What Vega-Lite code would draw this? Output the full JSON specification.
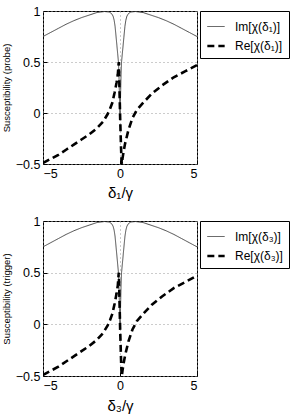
{
  "$schema": "https://vega.github.io/schema/vega-lite/v6.json",
  "padding": {"left": 0, "top": 4, "right": 0, "bottom": 0},
  "background": "white",
  "config": {
    "font": "Liberation Sans",
    "view": {"stroke": "black", "strokeWidth": 1},
    "concat": {"spacing": 13},
    "axis": {
      "domain": false,
      "grid": true,
      "gridDash": [1, 3],
      "gridColor": "#999999",
      "tickColor": "black",
      "tickSize": -4,
      "labelFontSize": 12.5,
      "labelColor": "black",
      "titleColor": "black",
      "titleFontWeight": "normal",
      "labelPadding": 7
    },
    "legend": {
      "orient": "right",
      "offset": 3,
      "title": null,
      "strokeColor": "black",
      "fillColor": "white",
      "padding": 6,
      "symbolType": "stroke",
      "symbolSize": 300,
      "labelFontSize": 12,
      "labelColor": "black",
      "rowPadding": 3,
      "labelOffset": 9
    }
  },
  "datasets": {
    "curves": [
      {"x": -5, "y": 0.75, "series": "Im"},
      {"x": -4.5, "y": 0.79, "series": "Im"},
      {"x": -4, "y": 0.83, "series": "Im"},
      {"x": -3.5, "y": 0.87, "series": "Im"},
      {"x": -3, "y": 0.905, "series": "Im"},
      {"x": -2.5, "y": 0.935, "series": "Im"},
      {"x": -2, "y": 0.96, "series": "Im"},
      {"x": -1.5, "y": 0.985, "series": "Im"},
      {"x": -1, "y": 0.995, "series": "Im"},
      {"x": -0.7, "y": 0.99, "series": "Im"},
      {"x": -0.55, "y": 0.975, "series": "Im"},
      {"x": -0.45, "y": 0.95, "series": "Im"},
      {"x": -0.38, "y": 0.91, "series": "Im"},
      {"x": -0.32, "y": 0.85, "series": "Im"},
      {"x": -0.25, "y": 0.74, "series": "Im"},
      {"x": -0.2, "y": 0.66, "series": "Im"},
      {"x": -0.15, "y": 0.58, "series": "Im"},
      {"x": -0.1, "y": 0.5, "series": "Im"},
      {"x": -0.07, "y": 0.38, "series": "Im"},
      {"x": -0.05, "y": 0.26, "series": "Im"},
      {"x": -0.03, "y": 0.12, "series": "Im"},
      {"x": 0, "y": 0, "series": "Im"},
      {"x": 0.03, "y": 0.12, "series": "Im"},
      {"x": 0.05, "y": 0.26, "series": "Im"},
      {"x": 0.07, "y": 0.38, "series": "Im"},
      {"x": 0.1, "y": 0.5, "series": "Im"},
      {"x": 0.15, "y": 0.58, "series": "Im"},
      {"x": 0.2, "y": 0.66, "series": "Im"},
      {"x": 0.25, "y": 0.74, "series": "Im"},
      {"x": 0.32, "y": 0.85, "series": "Im"},
      {"x": 0.38, "y": 0.91, "series": "Im"},
      {"x": 0.45, "y": 0.95, "series": "Im"},
      {"x": 0.55, "y": 0.975, "series": "Im"},
      {"x": 0.7, "y": 0.99, "series": "Im"},
      {"x": 1, "y": 0.995, "series": "Im"},
      {"x": 1.5, "y": 0.985, "series": "Im"},
      {"x": 2, "y": 0.96, "series": "Im"},
      {"x": 2.5, "y": 0.935, "series": "Im"},
      {"x": 3, "y": 0.905, "series": "Im"},
      {"x": 3.5, "y": 0.87, "series": "Im"},
      {"x": 4, "y": 0.83, "series": "Im"},
      {"x": 4.5, "y": 0.79, "series": "Im"},
      {"x": 5, "y": 0.75, "series": "Im"},
      {"x": -5, "y": -0.49, "series": "Re"},
      {"x": -4.5, "y": -0.45, "series": "Re"},
      {"x": -4, "y": -0.41, "series": "Re"},
      {"x": -3.5, "y": -0.36, "series": "Re"},
      {"x": -3, "y": -0.31, "series": "Re"},
      {"x": -2.5, "y": -0.26, "series": "Re"},
      {"x": -2, "y": -0.21, "series": "Re"},
      {"x": -1.5, "y": -0.15, "series": "Re"},
      {"x": -1.1, "y": -0.085, "series": "Re"},
      {"x": -0.8, "y": -0.01, "series": "Re"},
      {"x": -0.65, "y": 0.04, "series": "Re"},
      {"x": -0.5, "y": 0.1, "series": "Re"},
      {"x": -0.35, "y": 0.2, "series": "Re"},
      {"x": -0.22, "y": 0.3, "series": "Re"},
      {"x": -0.14, "y": 0.38, "series": "Re"},
      {"x": -0.08, "y": 0.5, "series": "Re"},
      {"x": -0.05, "y": 0.35, "series": "Re"},
      {"x": -0.02, "y": 0.15, "series": "Re"},
      {"x": 0.01, "y": -0.05, "series": "Re"},
      {"x": 0.04, "y": -0.2, "series": "Re"},
      {"x": 0.07, "y": -0.35, "series": "Re"},
      {"x": 0.1, "y": -0.47, "series": "Re"},
      {"x": 0.12, "y": -0.5, "series": "Re"},
      {"x": 0.16, "y": -0.45, "series": "Re"},
      {"x": 0.22, "y": -0.39, "series": "Re"},
      {"x": 0.33, "y": -0.3, "series": "Re"},
      {"x": 0.55, "y": -0.165, "series": "Re"},
      {"x": 0.81, "y": -0.05, "series": "Re"},
      {"x": 1.09, "y": 0.03, "series": "Re"},
      {"x": 1.53, "y": 0.105, "series": "Re"},
      {"x": 2.07, "y": 0.19, "series": "Re"},
      {"x": 2.73, "y": 0.27, "series": "Re"},
      {"x": 3.49, "y": 0.35, "series": "Re"},
      {"x": 4.25, "y": 0.41, "series": "Re"},
      {"x": 5, "y": 0.47, "series": "Re"}
    ]
  },
  "vconcat": [
    {
      "width": 154,
      "height": 153,
      "data": {"name": "curves"},
      "mark": {"type": "line", "clip": true},
      "encoding": {
        "x": {"field": "x", "type": "quantitative", "scale": {"domain": [-5, 5], "nice": false},
              "axis": {"values": [-5, 0, 5], "format": "~g", "title": "δ₁/γ", "titleFontSize": 15, "titlePadding": 6}},
        "y": {"field": "y", "type": "quantitative", "scale": {"domain": [-0.5, 1], "nice": false},
              "axis": {"values": [-0.5, 0, 0.5, 1], "format": "~g", "title": "Susceptibility (probe)", "titleFontSize": 9.5, "titlePadding": 4}},
        "color": {"field": "series", "type": "nominal", "scale": {"domain": ["Im", "Re"], "range": ["#333333", "#000000"]},
                  "legend": {"labelExpr": "datum.label == 'Im' ? 'Im[χ(δ₁)]' : 'Re[χ(δ₁)]'"}},
        "strokeDash": {"field": "series", "type": "nominal", "scale": {"domain": ["Im", "Re"], "range": [[1, 0], [7, 4]]},
                  "legend": {"labelExpr": "datum.label == 'Im' ? 'Im[χ(δ₁)]' : 'Re[χ(δ₁)]'"}},
        "strokeWidth": {"field": "series", "type": "nominal", "scale": {"domain": ["Im", "Re"], "range": [0.9, 2.6]},
                  "legend": {"labelExpr": "datum.label == 'Im' ? 'Im[χ(δ₁)]' : 'Re[χ(δ₁)]'"}}
      }
    },
    {
      "width": 154,
      "height": 155,
      "data": {"name": "curves"},
      "mark": {"type": "line", "clip": true},
      "encoding": {
        "x": {"field": "x", "type": "quantitative", "scale": {"domain": [-5, 5], "nice": false},
              "axis": {"values": [-5, 0, 5], "format": "~g", "title": "δ₃/γ", "titleFontSize": 15, "titlePadding": 7}},
        "y": {"field": "y", "type": "quantitative", "scale": {"domain": [-0.5, 1], "nice": false},
              "axis": {"values": [-0.5, 0, 0.5, 1], "format": "~g", "title": "Susceptibility (trigger)", "titleFontSize": 9.5, "titlePadding": 4}},
        "color": {"field": "series", "type": "nominal", "scale": {"domain": ["Im", "Re"], "range": ["#333333", "#000000"]},
                  "legend": {"labelExpr": "datum.label == 'Im' ? 'Im[χ(δ₃)]' : 'Re[χ(δ₃)]'"}},
        "strokeDash": {"field": "series", "type": "nominal", "scale": {"domain": ["Im", "Re"], "range": [[1, 0], [7, 4]]},
                  "legend": {"labelExpr": "datum.label == 'Im' ? 'Im[χ(δ₃)]' : 'Re[χ(δ₃)]'"}},
        "strokeWidth": {"field": "series", "type": "nominal", "scale": {"domain": ["Im", "Re"], "range": [0.9, 2.6]},
                  "legend": {"labelExpr": "datum.label == 'Im' ? 'Im[χ(δ₃)]' : 'Re[χ(δ₃)]'"}}
      }
    }
  ],
  "resolve": {
    "scale": {"color": "independent", "strokeDash": "independent", "strokeWidth": "independent"},
    "legend": {"color": "independent", "strokeDash": "independent", "strokeWidth": "independent"}
  }
}
